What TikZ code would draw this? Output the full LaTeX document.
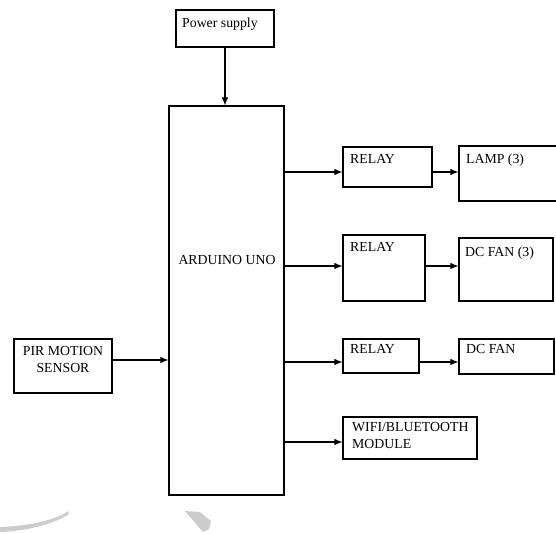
\documentclass[tikz,border=0pt]{standalone}
\usepackage{fontspec}
\setmainfont{Liberation Serif}
\usetikzlibrary{arrows.meta,calc}
\begin{document}
\begin{tikzpicture}[x=1pt,y=-1pt,
  blk/.style={draw=black,line width=1.1pt,rectangle,inner sep=0pt},
  txt/.style={font=\fontsize{13.8}{17}\selectfont,inner sep=0pt,anchor=base west},
  arr/.style={line width=1.1pt,-{Latex[length=8pt,width=6.5pt]}}]
\useasboundingbox (0,0) rectangle (556,534);
% boxes
\node[blk,minimum width=98pt,minimum height=37pt] (ps) at (225,28.5) {};
\node[blk,minimum width=115pt,minimum height=389pt] (ard) at (226.5,300.5) {};
\node[blk,minimum width=98pt,minimum height=54pt] (pir) at (63,366) {};
\node[blk,minimum width=89pt,minimum height=40pt] (r1) at (387.5,167) {};
\node[blk,minimum width=102pt,minimum height=55pt] (lamp) at (510,173.5) {};
\node[blk,minimum width=82pt,minimum height=66pt] (r2) at (384,268) {};
\node[blk,minimum width=94pt,minimum height=63pt] (fan3) at (506,269.5) {};
\node[blk,minimum width=76pt,minimum height=34pt] (r3) at (381,356) {};
\node[blk,minimum width=95pt,minimum height=35pt] (fan) at (506.5,356.5) {};
\node[blk,minimum width=134pt,minimum height=42pt] (wifi) at (410,438) {};
% texts
\node[txt] (tps) at (182,28) {Power supply};
\node[txt,anchor=base] (tard) at (227,265) {ARDUINO UNO};
\node[txt,anchor=center,align=center] (tpir) at (63,359) {PIR MOTION\\SENSOR};
\node[txt] (tr1) at (350,164) {RELAY};
\node[txt] (tlamp) at (466,164) {LAMP (3)};
\node[txt] (tr2) at (350,252) {RELAY};
\node[txt] (tfan3) at (465,257) {DC FAN (3)};
\node[txt] (tr3) at (350,353) {RELAY};
\node[txt] (tfan) at (466,353) {DC FAN};
\node[txt,anchor=north west,align=left] (twifi) at (352,422) {WIFI/BLUETOOTH\\MODULE};
% connector levels
\coordinate (y1) at (0,172);
\coordinate (y2) at (0,266);
\coordinate (y3) at (0,362);
\coordinate (y4) at (0,442);
\coordinate (yp) at (0,360);
% connectors
\draw[arr] (ps.south) -- (ps.south |- ard.north);
\draw[arr] (pir.east |- yp) -- (ard.west |- yp);
\draw[arr] (ard.east |- y1) -- (r1.west |- y1);
\draw[arr] (ard.east |- y2) -- (r2.west |- y2);
\draw[arr] (ard.east |- y3) -- (r3.west |- y3);
\draw[arr] (ard.east |- y4) -- (wifi.west |- y4);
\draw[arr] (r1.east |- y1) -- (lamp.west |- y1);
\draw[arr] (r2.east |- y2) -- (fan3.west |- y2);
\draw[arr] (r3.east |- y3) -- (fan.west |- y3);
% watermark marks
\fill[gray!40] (0,527) .. controls (30,526) and (55,520) .. (69,511) -- (68,515) .. controls (52,524) and (28,531) .. (0,532) -- cycle;
\fill[gray!40] (185,511) -- (200,512) -- (211,521) -- (209,529) -- (203,532) -- (196,524) -- cycle;
\end{tikzpicture}
\end{document}
